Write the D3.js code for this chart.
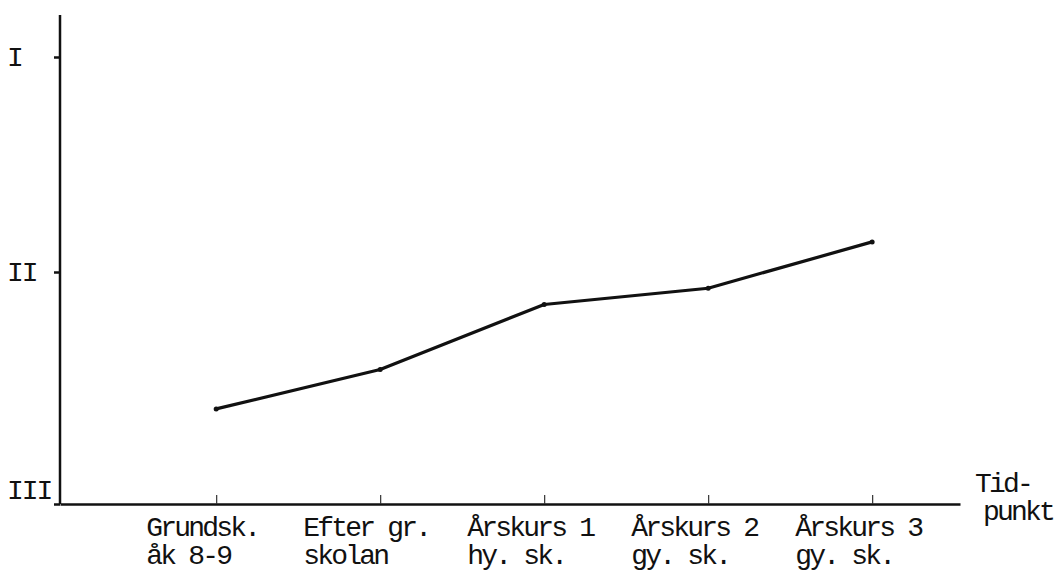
<!DOCTYPE html>
<html>
<head>
<meta charset="utf-8">
<script src="https://cdn.jsdelivr.net/npm/d3@7"></script>
<style>
  body { margin: 0; background: #fff; }
  text { font-family: "Liberation Mono", "DejaVu Sans Mono", monospace; fill: #111; }
</style>
</head>
<body>
<div data-js-graph></div>
<script>
// data
const categories = ['Grundsk.', 'Efter gr.', 'Årskurs 1', 'Årskurs 2', 'Årskurs 3'];
const subLabels = ['åk 8-9', 'skolan', 'hy. sk.', 'gy. sk.', 'gy. sk.'];
const values = [2.59, 2.42, 2.14, 2.07, 1.86];
const levels = [1, 2, 3];
const levelLabels = ['I', 'II', 'III'];

const SETTING = {
  width: 1064,
  height: 571,
  margin: { top: 15, left: 60, bottom: 67, right: 104 },
  font: 28,
  charW: 14,
};

const innerW = SETTING.width - SETTING.margin.left - SETTING.margin.right;
const innerH = SETTING.height - SETTING.margin.top - SETTING.margin.bottom;

const svg = d3.select('[data-js-graph]').append('svg')
  .attr('width', SETTING.width)
  .attr('height', SETTING.height);

const g = svg.append('g')
  .attr('transform', `translate(${SETTING.margin.left},${SETTING.margin.top})`);

const x = d3.scalePoint()
  .domain(categories)
  .range([0, innerW])
  .padding(0.744)
  .align(0.64);

// the hand drawn levels are not evenly spaced, so piecewise scale
const y = d3.scaleLinear()
  .domain([3, 2, 1])
  .range([innerH, innerH - 232, innerH - 447]);

// y axis line
g.append('line')
  .attr('x1', 0).attr('x2', 0)
  .attr('y1', 0).attr('y2', innerH)
  .attr('stroke', '#111')
  .attr('stroke-width', 2.5);

// y ticks + roman labels
const yAxis = g.append('g')
  .call(d3.axisLeft(y).tickValues(levels).tickSize(6)
    .tickFormat((d, i) => levelLabels[i]));
yAxis.select('.domain').remove();
yAxis.selectAll('.tick line').attr('stroke', '#111').attr('stroke-width', 2.5).attr('x2', -6);
yAxis.selectAll('.tick text')
  .attr('x', -53)
  .attr('dy', (d) => (d === 3 ? '-0.2em' : '0.32em'))
  .attr('text-anchor', 'start')
  .style('font-size', `${SETTING.font}px`)
  .style('letter-spacing', '-2px')
  .style('font-family', '"Liberation Mono", monospace');

// x axis
const xAxis = g.append('g')
  .attr('transform', `translate(0,${innerH})`)
  .call(d3.axisBottom(x).tickSize(-9).tickSizeOuter(0).tickFormat(''));
xAxis.select('.domain').attr('stroke', '#111').attr('stroke-width', 2.5);
xAxis.selectAll('.tick line').attr('stroke', '#333').attr('stroke-width', 1.2);

// two line category labels, typewriter style
const labels = g.append('g')
  .selectAll('text')
  .data(categories)
  .join('text')
  .attr('transform', (d) => `translate(${x(d) - 14 - (d.length * SETTING.charW) / 2},${innerH + 32})`)
  .style('font-size', `${SETTING.font}px`)
  .style('letter-spacing', '-2.8px');

labels.append('tspan')
  .attr('x', 0)
  .text((d) => d);
labels.append('tspan')
  .attr('x', 0)
  .attr('dy', 28)
  .text((d, i) => subLabels[i]);

// axis title on the right
const title = g.append('text')
  .attr('transform', `translate(${innerW + 15},${innerH - 12})`)
  .style('font-size', `${SETTING.font}px`)
  .style('letter-spacing', '-2.8px');
title.append('tspan').attr('x', 0).text('Tid-');
title.append('tspan').attr('x', 8).attr('dy', 28).text('punkt');

// the line
const line = d3.line()
  .x((d, i) => x(categories[i]))
  .y((d) => y(d));

g.append('path')
  .datum(values)
  .attr('d', line)
  .attr('fill', 'none')
  .attr('stroke', '#111')
  .attr('stroke-width', 3.2)
  .attr('stroke-linejoin', 'round');

// small marks at the points
g.append('g')
  .selectAll('circle')
  .data(values)
  .join('circle')
  .attr('cx', (d, i) => x(categories[i]))
  .attr('cy', (d) => y(d))
  .attr('r', 2.5)
  .attr('fill', '#111');
</script>
</body>
</html>
